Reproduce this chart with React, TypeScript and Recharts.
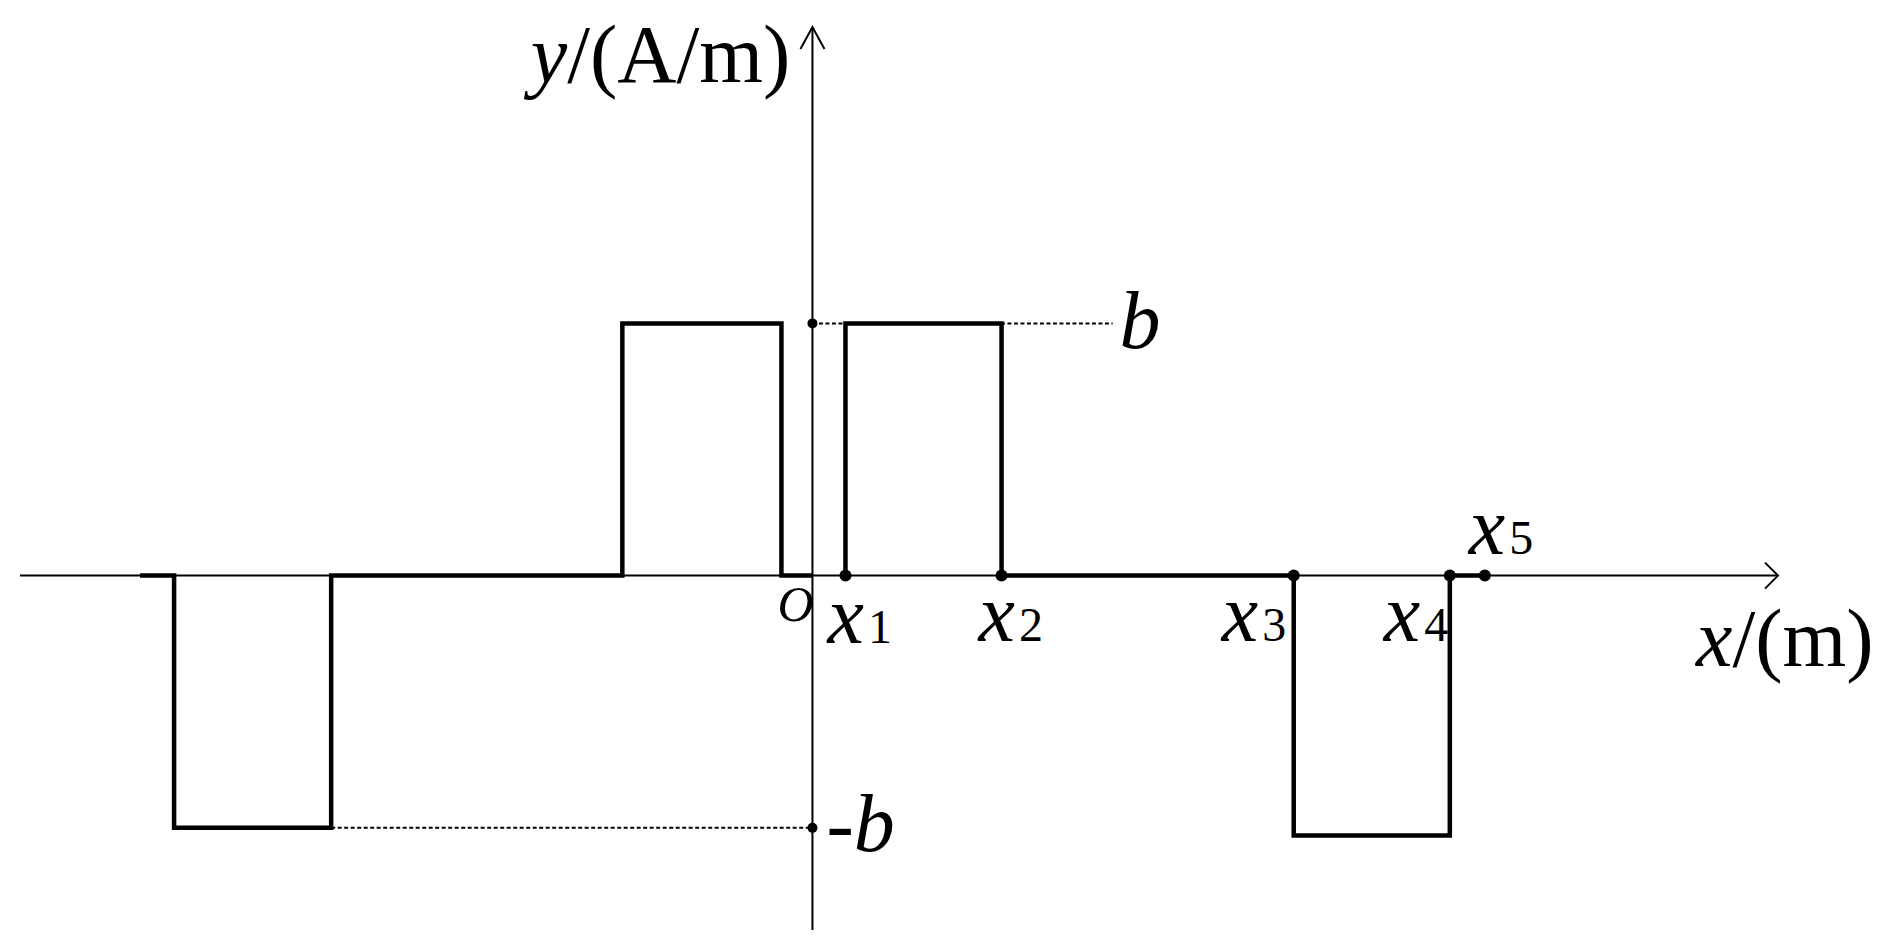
import React from 'react';
import {
  LineChart,
  Line,
  XAxis,
  YAxis,
  ReferenceLine,
  ReferenceDot,
} from 'recharts';

// waveform corners (1 x-unit ~ 100px, b = 1)
const waveX = [-6.72, -6.38, -6.38, -4.81, -4.81, -1.9, -1.9, -0.31, -0.31, 0, 0, 0.33, 0.33, 1.89, 1.89, 4.81, 4.81, 6.37, 6.37, 6.72];
const waveY = [0, 0, -1, -1, 0, 0, 1, 1, 0, 0, null, 0, 1, 1, 0, 0, -1.03, -1.03, 0, 0];

// marked points on the x axis
const tickX = [0.33, 1.89, 4.81, 6.37, 6.72];
const tickSubs = ['1', '2', '3', '4', '5'];

// levels and axis extents
const bLevel = 1;
const negBLevel = -1;
const bDashEnd = 3.0;
const negBDashStart = -4.81;
const xDomain: [number, number] = [-7.92, 9.65];
const yDomain: [number, number] = [-1.405, 2.175];

const data = waveX.map((x, i) => ({ x, y: waveY[i] }));

const FONT = "'Liberation Serif', 'DejaVu Serif', serif";
const INK = '#000';

// label offsets from each dot (style only)
const TICK_LABEL_OFFSET: [number, number][] = [
  [-18, 67],
  [-23, 65],
  [-72, 65],
  [-66, 65],
  [-16, -22],
];

const SubLabel = ({ x, y, sub }: { x: number; y: number; sub: string }) => (
  <text x={x} y={y} fontFamily={FONT} fill={INK}>
    <tspan fontStyle="italic" fontSize={82}>x</tspan>
    <tspan fontSize={48} dx={4}>{sub}</tspan>
  </text>
);

export default function App() {
  return (
    <div style={{ position: 'absolute', left: 0, top: 0, width: 1899, height: 945, background: '#fff' }}>
      <LineChart
        width={1899}
        height={945}
        data={data}
        margin={{ top: 27, right: 121, bottom: 15, left: 20 }}
      >
        <XAxis dataKey="x" type="number" domain={xDomain} allowDataOverflow hide />
        <YAxis type="number" domain={yDomain} allowDataOverflow hide />

        {/* axes */}
        <ReferenceLine y={0} stroke={INK} strokeWidth={2} />
        <ReferenceLine x={0} stroke={INK} strokeWidth={2} />
        <ReferenceDot
          x={xDomain[1]}
          y={0}
          r={0}
          shape={(p: any) => (
            <path
              d={`M${p.cx - 13},${p.cy - 13} L${p.cx},${p.cy} L${p.cx - 13},${p.cy + 13}`}
              fill="none"
              stroke={INK}
              strokeWidth={2}
            />
          )}
        />
        <ReferenceDot
          x={0}
          y={yDomain[1]}
          r={0}
          shape={(p: any) => (
            <g>
              <path
                d={`M${p.cx - 12},${p.cy + 22} L${p.cx},${p.cy} L${p.cx + 12},${p.cy + 22}`}
                fill="none"
                stroke={INK}
                strokeWidth={2}
              />
              <text x={p.cx - 22} y={p.cy + 55} textAnchor="end" fontFamily={FONT} fontSize={82} fill={INK}>
                <tspan fontStyle="italic">y</tspan>/(A/m)
              </text>
            </g>
          )}
        />
        <ReferenceDot
          x={xDomain[1]}
          y={0}
          r={0}
          shape={(p: any) => (
            <text x={p.cx - 82} y={p.cy + 90} fontFamily={FONT} fontSize={82} fill={INK}>
              <tspan fontStyle="italic">x</tspan>/(m)
            </text>
          )}
        />

        {/* dotted guides to +b and -b */}
        <ReferenceLine
          segment={[{ x: 0, y: bLevel }, { x: bDashEnd, y: bLevel }]}
          stroke={INK}
          strokeWidth={2}
          strokeDasharray="4 2.5"
        />
        <ReferenceLine
          segment={[{ x: negBDashStart, y: negBLevel }, { x: 0, y: negBLevel }]}
          stroke={INK}
          strokeWidth={2}
          strokeDasharray="4 2.5"
        />

        <Line
          type="linear"
          dataKey="y"
          stroke={INK}
          strokeWidth={4.5}
          dot={false}
          activeDot={false}
          connectNulls={false}
          isAnimationActive={false}
        />

        {/* origin label */}
        <ReferenceDot
          x={0}
          y={0}
          r={0}
          shape={(p: any) => (
            <text x={p.cx - 35} y={p.cy + 45} fontFamily={FONT} fontSize={50} fontStyle="italic" fill={INK}>
              O
            </text>
          )}
        />

        {/* b and -b */}
        <ReferenceDot x={0} y={bLevel} r={5} fill={INK} stroke="none" />
        <ReferenceDot
          x={bDashEnd}
          y={bLevel}
          r={0}
          shape={(p: any) => (
            <text x={p.cx + 7} y={p.cy + 25} fontFamily={FONT} fontSize={82} fontStyle="italic" fill={INK}>
              b
            </text>
          )}
        />
        <ReferenceDot
          x={0}
          y={negBLevel}
          r={5}
          shape={(p: any) => (
            <g>
              <circle cx={p.cx} cy={p.cy} r={5} fill={INK} />
              <text x={p.cx + 14} y={p.cy + 23} fontFamily={FONT} fontSize={82} fill={INK}>
                -<tspan fontStyle="italic">b</tspan>
              </text>
            </g>
          )}
        />

        {/* x1..x5 */}
        {tickX.map((tx, i) => (
          <ReferenceDot
            key={`tick-${i}`}
            x={tx}
            y={0}
            r={6}
            shape={(p: any) => (
              <g>
                <circle cx={p.cx} cy={p.cy} r={6} fill={INK} />
                <SubLabel
                  x={p.cx + TICK_LABEL_OFFSET[i][0]}
                  y={p.cy + TICK_LABEL_OFFSET[i][1]}
                  sub={tickSubs[i]}
                />
              </g>
            )}
          />
        ))}
      </LineChart>
    </div>
  );
}
